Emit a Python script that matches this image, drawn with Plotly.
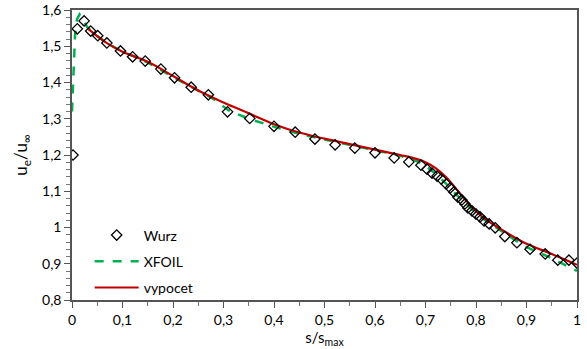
import plotly.graph_objects as go

# Wurz experimental data
wurz_s = [0.002, 0.0105, 0.024, 0.037, 0.051, 0.069, 0.096, 0.120, 0.145, 0.176,
          0.203, 0.236, 0.270, 0.308, 0.352, 0.400, 0.442, 0.481, 0.521, 0.560,
          0.600, 0.638, 0.667, 0.691, 0.703, 0.713, 0.723, 0.731, 0.741, 0.749,
          0.756, 0.764, 0.772, 0.778, 0.784, 0.792, 0.800, 0.808, 0.816, 0.826,
          0.838, 0.857, 0.881, 0.907, 0.937, 0.962, 0.984, 1.0]
wurz_u = [1.200, 1.548, 1.570, 1.542, 1.529, 1.509, 1.487, 1.471, 1.459, 1.437,
          1.413, 1.387, 1.366, 1.319, 1.301, 1.279, 1.263, 1.244, 1.228, 1.219,
          1.206, 1.192, 1.181, 1.172, 1.161, 1.150, 1.142, 1.134, 1.120, 1.109,
          1.098, 1.084, 1.076, 1.065, 1.054, 1.046, 1.037, 1.029, 1.018, 1.010,
          0.999, 0.975, 0.958, 0.940, 0.927, 0.910, 0.910, 0.902]

# XFOIL
xfoil_s = [0.0, 0.003, 0.006, 0.010, 0.015, 0.022, 0.030, 0.05, 0.07, 0.10, 0.15,
           0.20, 0.25, 0.28, 0.31, 0.35, 0.40, 0.45, 0.50, 0.55, 0.60, 0.65, 0.68,
           0.70, 0.72, 0.74, 0.76, 0.78, 0.80, 0.82, 0.85, 0.88, 0.90, 0.95, 1.0]
xfoil_u = [1.32, 1.45, 1.53, 1.575, 1.588, 1.575, 1.553, 1.528, 1.507, 1.486, 1.455,
           1.415, 1.377, 1.355, 1.323, 1.300, 1.278, 1.258, 1.243, 1.228, 1.213, 1.198,
           1.185, 1.170, 1.148, 1.122, 1.092, 1.065, 1.040, 1.018, 0.990, 0.963, 0.946,
           0.915, 0.880]

# vypocet (computation)
vyp_s = [0.032, 0.05, 0.07, 0.10, 0.15, 0.20, 0.25, 0.30, 0.35, 0.40, 0.45, 0.50,
         0.55, 0.60, 0.65, 0.68, 0.70, 0.72, 0.74, 0.76, 0.78, 0.80, 0.82, 0.85,
         0.88, 0.90, 0.95, 1.0]
vyp_u = [1.548, 1.528, 1.508, 1.485, 1.457, 1.418, 1.378, 1.345, 1.315, 1.285,
         1.262, 1.245, 1.230, 1.215, 1.200, 1.190, 1.180, 1.164, 1.140, 1.108,
         1.075, 1.045, 1.022, 0.995, 0.970, 0.955, 0.927, 0.897]

y_ticks = [0.8, 0.9, 1.0, 1.1, 1.2, 1.3, 1.4, 1.5, 1.6]
x_ticks = [0, 0.1, 0.2, 0.3, 0.4, 0.5, 0.6, 0.7, 0.8, 0.9, 1.0]

font_family = "Lato, 'Open Sans', sans-serif"

fig = go.Figure()
fig.add_trace(go.Scatter(x=xfoil_s, y=xfoil_u, mode="lines", name="XFOIL", legendrank=2,
                         legendgroup="b",
                         line=dict(color="#00B050", width=2.5, dash="dash")))
fig.add_trace(go.Scatter(x=vyp_s, y=vyp_u, mode="lines", name="vypocet", legendrank=3,
                         legendgroup="c",
                         line=dict(color="#C00000", width=2.2, shape="spline")))
fig.add_trace(go.Scatter(x=wurz_s, y=wurz_u, mode="markers", name="Wurz", legendrank=1,
                         legendgroup="a",
                         marker=dict(symbol="diamond-open", color="black", size=8,
                                     line=dict(width=1.3, color="black"))))

fig.update_layout(
    width=587, height=349,
    margin=dict(l=72, r=10, t=10, b=49),
    paper_bgcolor="white", plot_bgcolor="white",
    separators=", ",
    font=dict(family=font_family, size=14, color="black"),
    showlegend=True,
    legend=dict(x=0.035, y=-0.012, xanchor="left", yanchor="bottom",
                bgcolor="rgba(0,0,0,0)", font=dict(size=14),
                itemwidth=44, tracegroupgap=5),
)
fig.update_xaxes(
    range=[0, 1], tickvals=x_ticks, showgrid=False, zeroline=False, automargin=False,
    showline=True, linecolor="#555555", linewidth=1.5, mirror=True,
    ticks="outside", ticklen=6, tickcolor="#555555",
    minor=dict(dtick=0.05, ticks="outside", ticklen=4, tickcolor="#777777", showgrid=False),
    title=dict(text="s/s<sub>max</sub>", standoff=0, font=dict(size=15)),
)
fig.update_yaxes(
    range=[0.8, 1.6], tickvals=y_ticks, showgrid=False, zeroline=False, automargin=False,
    showline=True, linecolor="#555555", linewidth=1.5, mirror=True,
    ticks="outside", ticklen=6, tickcolor="#555555",
    minor=dict(dtick=0.02, ticks="outside", ticklen=4, tickcolor="#777777", showgrid=False),
    title=dict(text="u<sub>e</sub>/u<sub>∞</sub>", standoff=10, font=dict(size=17)),
)

fig.write_html("out.html", config={"displayModeBar": False},
               post_script="document.body.style.margin='0';document.body.style.padding='0';")
